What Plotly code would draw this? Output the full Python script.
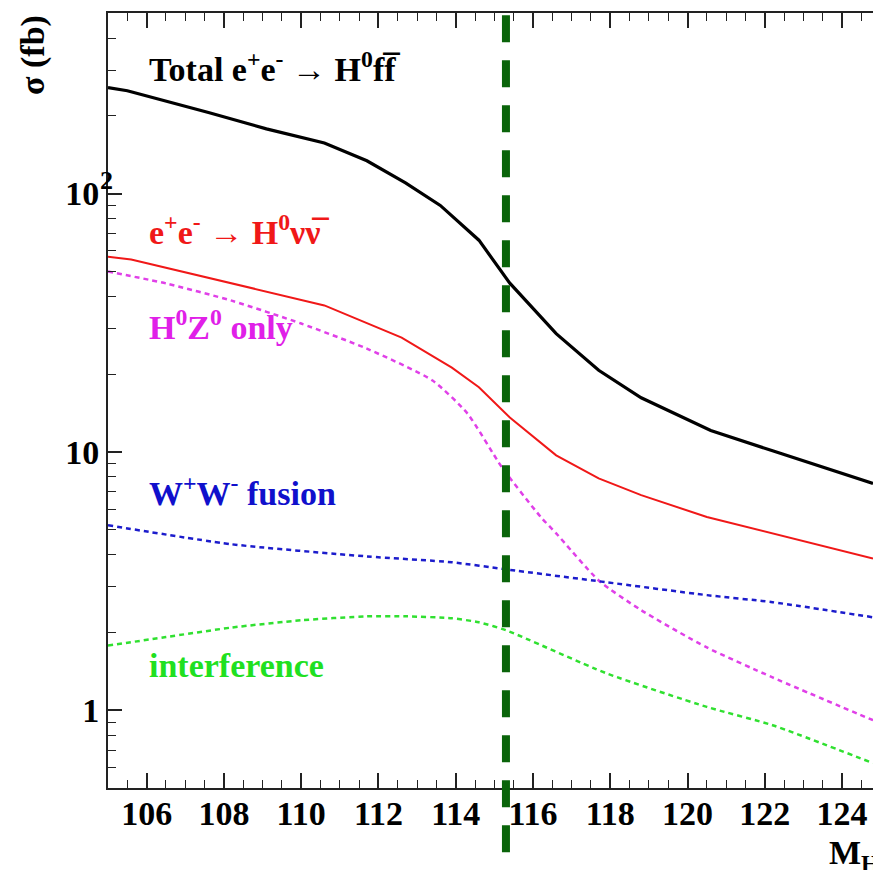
import plotly.graph_objects as go

# ---- data ----
total_x = [105, 105.5, 107.6, 109.1, 110.6, 111.7, 112.7, 113.6, 114.6, 115.4, 116.6, 117.7, 118.8, 120.6, 122.2, 123.5, 124.8]
total_y = [257, 250, 206, 178, 157, 134, 110, 90, 66, 45, 28.7, 20.7, 16.2, 12.1, 10.1, 8.7, 7.55]

nunu_x = [105, 105.6, 110.6, 112.6, 113.9, 114.6, 115.4, 116.6, 117.7, 118.8, 120.5, 122.2, 124.8]
nunu_y = [57, 55.6, 36.9, 27.7, 21.2, 17.8, 13.6, 9.7, 7.9, 6.8, 5.6, 4.84, 3.87]

hz_x = [105, 106.5, 108.2, 110, 111.7, 113.4, 114.3, 115.2, 116.2, 116.6, 117.7, 118.8, 120.5, 122.2, 124.8]
hz_y = [49.9, 44.9, 38.5, 31.4, 25.1, 18.9, 14.1, 8.7, 5.6, 4.84, 3.18, 2.44, 1.75, 1.34, 0.915]

ww_x = [105, 108.2, 111.7, 113.9, 115.3, 117.9, 120.5, 122.2, 124.8]
ww_y = [5.2, 4.39, 3.94, 3.74, 3.51, 3.13, 2.79, 2.62, 2.29]

int_x = [105, 106.5, 108.2, 110, 111.7, 112.7, 113.9, 114.6, 115.3, 117.9, 120.5, 122.2, 124.8]
int_y = [1.78, 1.92, 2.09, 2.23, 2.31, 2.31, 2.27, 2.19, 2.04, 1.39, 1.03, 0.875, 0.624]

lep_limit = 115.3

x_ticks = [106, 108, 110, 112, 114, 116, 118, 120, 122, 124]
x_minor = [v / 2 for v in range(210, 250)]
y_ticks = [1, 10, 100]
y_ticktext = ["1", "10", "10"]
y_minor = [0.5, 0.6, 0.7, 0.8, 0.9, 2, 3, 4, 5, 6, 7, 8, 9,
           20, 30, 40, 50, 60, 70, 80, 90, 200, 300, 400, 500]

FONT = "Liberation Serif"
FS = 34

fig = go.Figure()
fig.add_trace(go.Scatter(x=total_x, y=total_y, mode="lines",
                         line=dict(color="black", width=3.2)))
fig.add_trace(go.Scatter(x=nunu_x, y=nunu_y, mode="lines",
                         line=dict(color="#f01818", width=2)))
fig.add_trace(go.Scatter(x=hz_x, y=hz_y, mode="lines",
                         line=dict(color="#e040e8", width=2.5, dash="5px,4px", shape="spline", smoothing=0.6)))
fig.add_trace(go.Scatter(x=ww_x, y=ww_y, mode="lines",
                         line=dict(color="#1c1ccc", width=2.5, dash="5px,4px", shape="spline", smoothing=0.6)))
fig.add_trace(go.Scatter(x=int_x, y=int_y, mode="lines",
                         line=dict(color="#30e030", width=2.5, dash="5px,4px", shape="spline", smoothing=0.6)))

fig.add_shape(type="line", xref="x", yref="paper", x0=lep_limit, x1=lep_limit,
              y0=0.997, y1=-0.088, layer="above",
              line=dict(color="#0a640a", width=8, dash="27px,18px"))

def label(text, x, y, color):
    fig.add_annotation(x=x, y=y, xref="x", yref="y", text="<b>" + text + "</b>",
                       showarrow=False, xanchor="left", yanchor="middle",
                       font=dict(family=FONT, size=FS, color=color))

label("Total e<sup>+</sup>e<sup>-</sup> → H<sup>0</sup>ff\u0305", 106.0, 2.49, "black")
label("e<sup>+</sup>e<sup>-</sup> → H<sup>0</sup>νν\u0305", 106.0, 1.86, "#f01818")
label("H<sup>0</sup>Z<sup>0</sup> only", 106.0, 1.49, "#e020e8")
label("W<sup>+</sup>W<sup>-</sup> fusion", 106.0, 0.85, "#1010cc")
label("interference", 106.0, 0.175, "#20e020")

# exponent of the 10^2 tick label
fig.add_annotation(x=(106 - 108) / 765, y=2.05, xref="paper", yref="y", text="<b>2</b>",
                   showarrow=False, xanchor="center", yanchor="middle",
                   font=dict(family=FONT, size=26, color="black"))

fig.add_annotation(x=(33 - 108) / 765, y=(788 - 55) / 775, xref="paper", yref="paper",
                   text="<b>σ (fb)</b>", showarrow=False, textangle=-90,
                   xanchor="center", yanchor="middle",
                   font=dict(family=FONT, size=FS, color="black"))
fig.add_annotation(x=1.0, y=0, xref="paper", yref="paper", text="<b>M<sub>H</sub></b>",
                   showarrow=False, xanchor="left", yanchor="top", xshift=-46, yshift=-44,
                   font=dict(family=FONT, size=FS, color="black"))

fig.update_layout(
    width=873, height=870,
    margin=dict(l=108, r=0, t=13, b=82),
    paper_bgcolor="white", plot_bgcolor="white",
    showlegend=False,
    font=dict(family=FONT, size=FS, color="black"),
)
fig.update_xaxes(
    range=[105, 124.8], showgrid=False, zeroline=False,
    showline=True, linewidth=2, linecolor="#222", mirror="allticks",
    ticks="inside", ticklen=15, tickwidth=1.5, tickcolor="#222",
    tickvals=x_ticks, ticktext=[str(v) for v in x_ticks], ticklabelstandoff=-6,
    tickfont=dict(family=FONT, size=FS, weight="bold"),
    minor=dict(tickvals=x_minor, ticks="inside", ticklen=8, tickwidth=1.2, tickcolor="#222"),
)
fig.update_yaxes(
    type="log", range=[-0.301, 2.699], showgrid=False, zeroline=False,
    showline=True, linewidth=2, linecolor="#222",
    ticks="inside", ticklen=14, tickwidth=1.5, tickcolor="#222",
    tickvals=y_ticks, ticktext=y_ticktext, ticklabelstandoff=0,
    tickfont=dict(family=FONT, size=FS, weight="bold"),
    minor=dict(tickvals=y_minor, ticks="inside", ticklen=8, tickwidth=1.2, tickcolor="#222"),
)

fig.write_html("out.html")
